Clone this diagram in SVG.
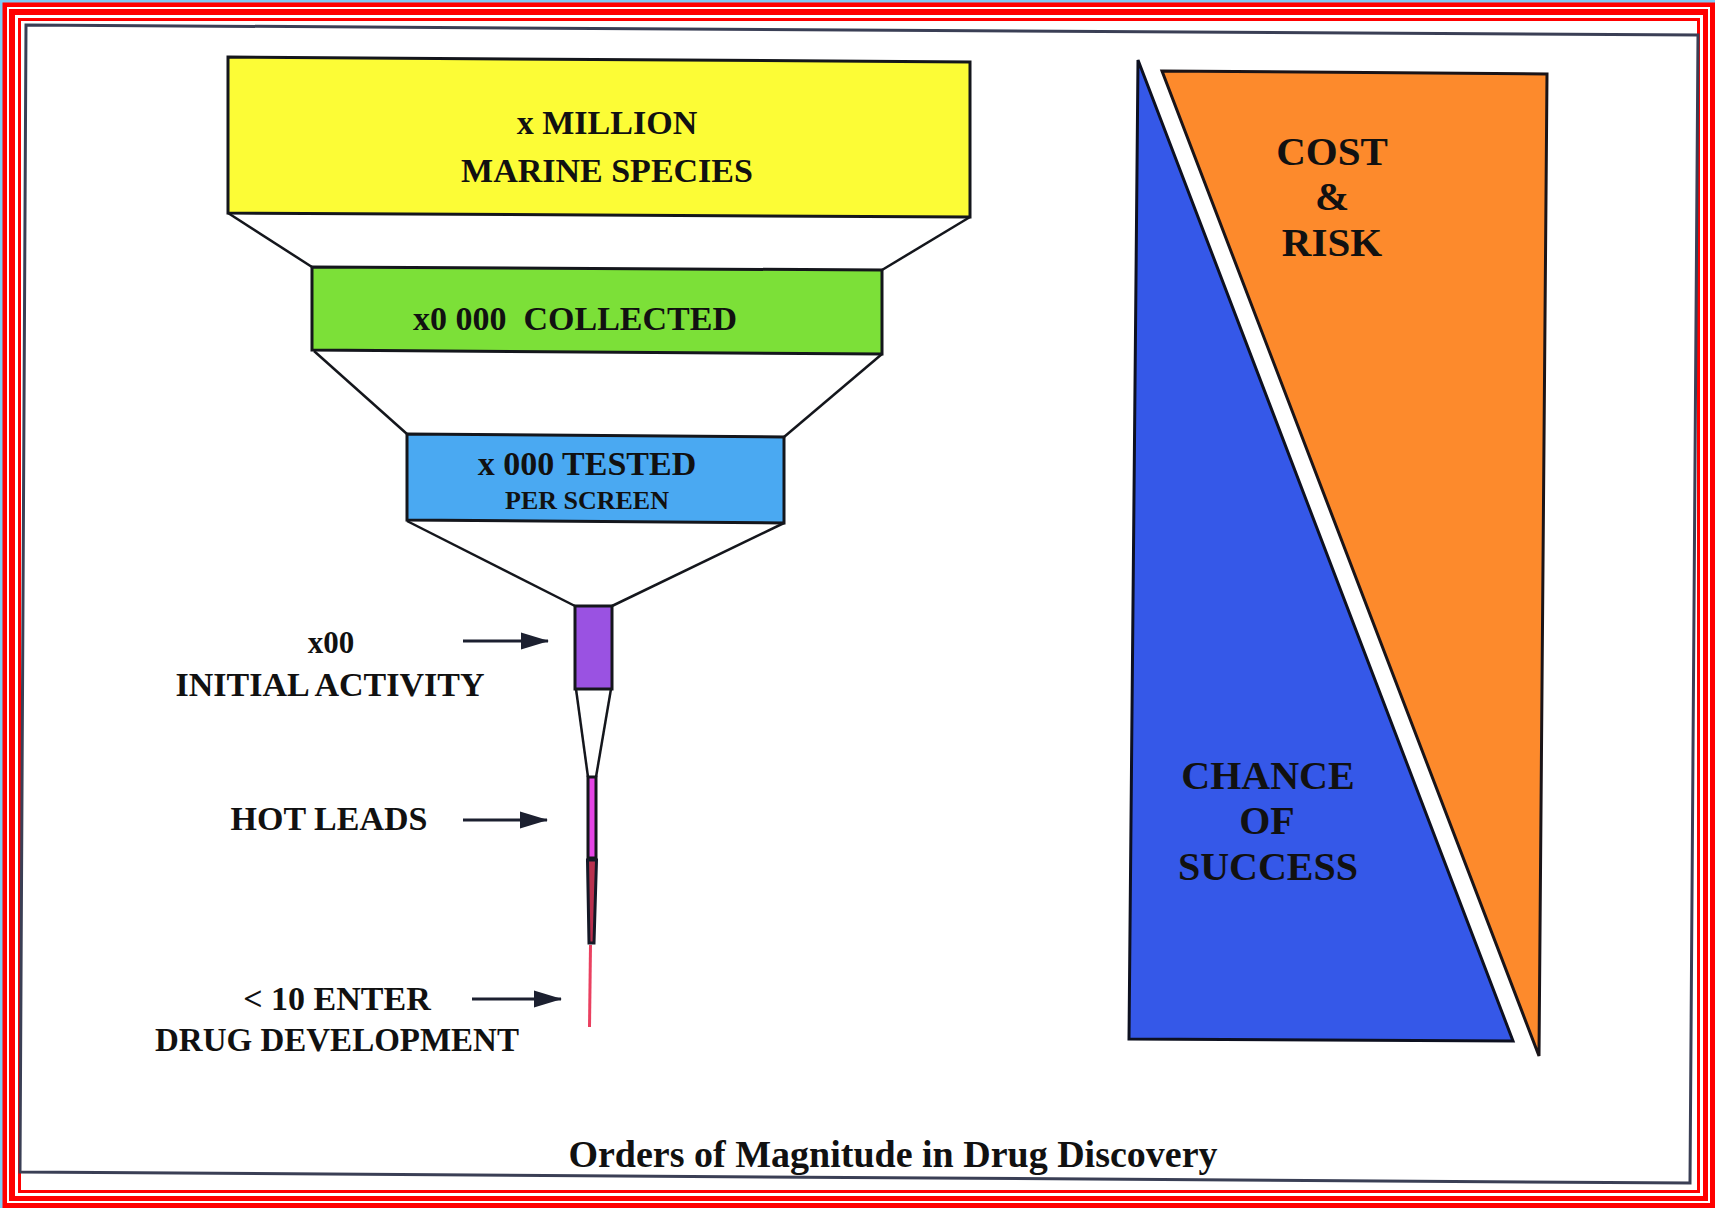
<svg xmlns="http://www.w3.org/2000/svg" width="1715" height="1208" viewBox="0 0 1715 1208">
<style>
.t{font-family:"Liberation Serif","Times New Roman",serif;font-weight:bold;fill:#111;text-anchor:middle;white-space:pre}
.box{stroke:#14161c;stroke-width:3;stroke-linejoin:miter}
.ln{stroke:#14161c;stroke-width:2.5;fill:none}
.arr{stroke:#1c2030;stroke-width:3;fill:none}
</style>
<defs>
<marker id="ah" markerUnits="userSpaceOnUse" viewBox="0 0 28 18" markerWidth="28" markerHeight="18" refX="27" refY="9" orient="auto">
<path d="M0,0.5 L28,9 L0,17.5 Z" fill="#1c2030"/>
</marker>
</defs>
<g id="border">
<rect x="0" y="0" width="1715" height="1208" fill="#7ecbf5"/>
<rect x="2.5" y="2.5" width="1712.5" height="1205.5" fill="#ff0000"/>
<rect x="8" y="8" width="1701" height="1194" fill="none" stroke="#ffffff" stroke-width="2"/>
<rect x="16.5" y="16.5" width="1685" height="1178" fill="none" stroke="#ffffff" stroke-width="3"/>
<rect x="21" y="21" width="1676" height="1169" fill="#ffffff"/>
<polygon points="26,25 1698,35 1690,1183 20,1172" fill="none" stroke="#3a3f55" stroke-width="3"/>
</g>
<g id="connectors">
<line class="ln" x1="228" y1="213" x2="312" y2="267"/>
<line class="ln" x1="970" y1="217" x2="882" y2="270"/>
<line class="ln" x1="314" y1="351" x2="407" y2="434"/>
<line class="ln" x1="882" y1="354" x2="784" y2="437"/>
<line class="ln" x1="407" y1="521" x2="575" y2="606"/>
<line class="ln" x1="784" y1="523" x2="612" y2="606"/>
<line class="ln" x1="576" y1="689" x2="588" y2="777"/>
<line class="ln" x1="611" y1="689" x2="596" y2="777"/>
<line class="arr" x1="463" y1="641" x2="548" y2="641" marker-end="url(#ah)"/>
<line class="arr" x1="463" y1="820" x2="547" y2="820" marker-end="url(#ah)"/>
<line class="arr" x1="472" y1="999" x2="561" y2="999" marker-end="url(#ah)"/>
</g>
<g id="node-species">
<polygon class="box" points="228,57 970,62 970,217 228,213" fill="#fcfc36"/>
<text class="t" x="607" y="134" font-size="34">x MILLION</text>
<text class="t" x="607" y="182" font-size="34">MARINE SPECIES</text>
</g>
<g id="node-collected">
<polygon class="box" points="312,267 882,270 882,354 312,350" fill="#7ce038"/>
<text class="t" x="575" y="330" font-size="34">x0 000  COLLECTED</text>
</g>
<g id="node-tested">
<polygon class="box" points="407,434 784,437 784,523 407,520" fill="#4aa9f2"/>
<text class="t" x="587" y="475" font-size="34">x 000 TESTED</text>
<text class="t" x="587" y="509" font-size="26">PER SCREEN</text>
</g>
<g id="node-initial">
<rect class="box" x="575" y="606" width="37" height="83" fill="#9a52e2"/>
<text class="t" x="331" y="653" font-size="31">x00</text>
<text class="t" x="330" y="696" font-size="34">INITIAL ACTIVITY</text>
</g>
<g id="node-hotleads">
<rect class="box" x="588" y="777" width="8" height="81" fill="#e645e6" stroke-width="2.5"/>
<text class="t" x="329" y="830" font-size="34">HOT LEADS</text>
</g>
<g id="node-development">
<polygon points="587.5,860 596.5,860 594,943 589,943" fill="#b8304e" stroke="#141826" stroke-width="3"/>
<line x1="590.5" y1="945" x2="589.5" y2="1027" stroke="#ea4060" stroke-width="3"/>
<text class="t" x="337" y="1010" font-size="34">&lt; 10 ENTER</text>
<text class="t" x="337" y="1051" font-size="33">DRUG DEVELOPMENT</text>
</g>
<g id="node-chance">
<polygon points="1138,60 1513,1041 1129,1039" fill="#3558e8" stroke="#0d1020" stroke-width="3" stroke-linejoin="miter"/>
<text class="t" x="1268" y="789" font-size="40">CHANCE</text>
<text class="t" x="1267" y="834" font-size="40">OF</text>
<text class="t" x="1268" y="880" font-size="40">SUCCESS</text>
</g>
<g id="node-cost">
<polygon points="1162,71 1547,74 1539,1056" fill="#fd8a2c" stroke="#1a1418" stroke-width="3" stroke-linejoin="miter"/>
<text class="t" x="1332" y="165" font-size="41">COST</text>
<text class="t" x="1332" y="210" font-size="41">&amp;</text>
<text class="t" x="1332" y="256" font-size="41">RISK</text>
</g>
<g id="caption">
<text class="t" x="893" y="1167" font-size="38">Orders of Magnitude in Drug Discovery</text>
</g>
</svg>
